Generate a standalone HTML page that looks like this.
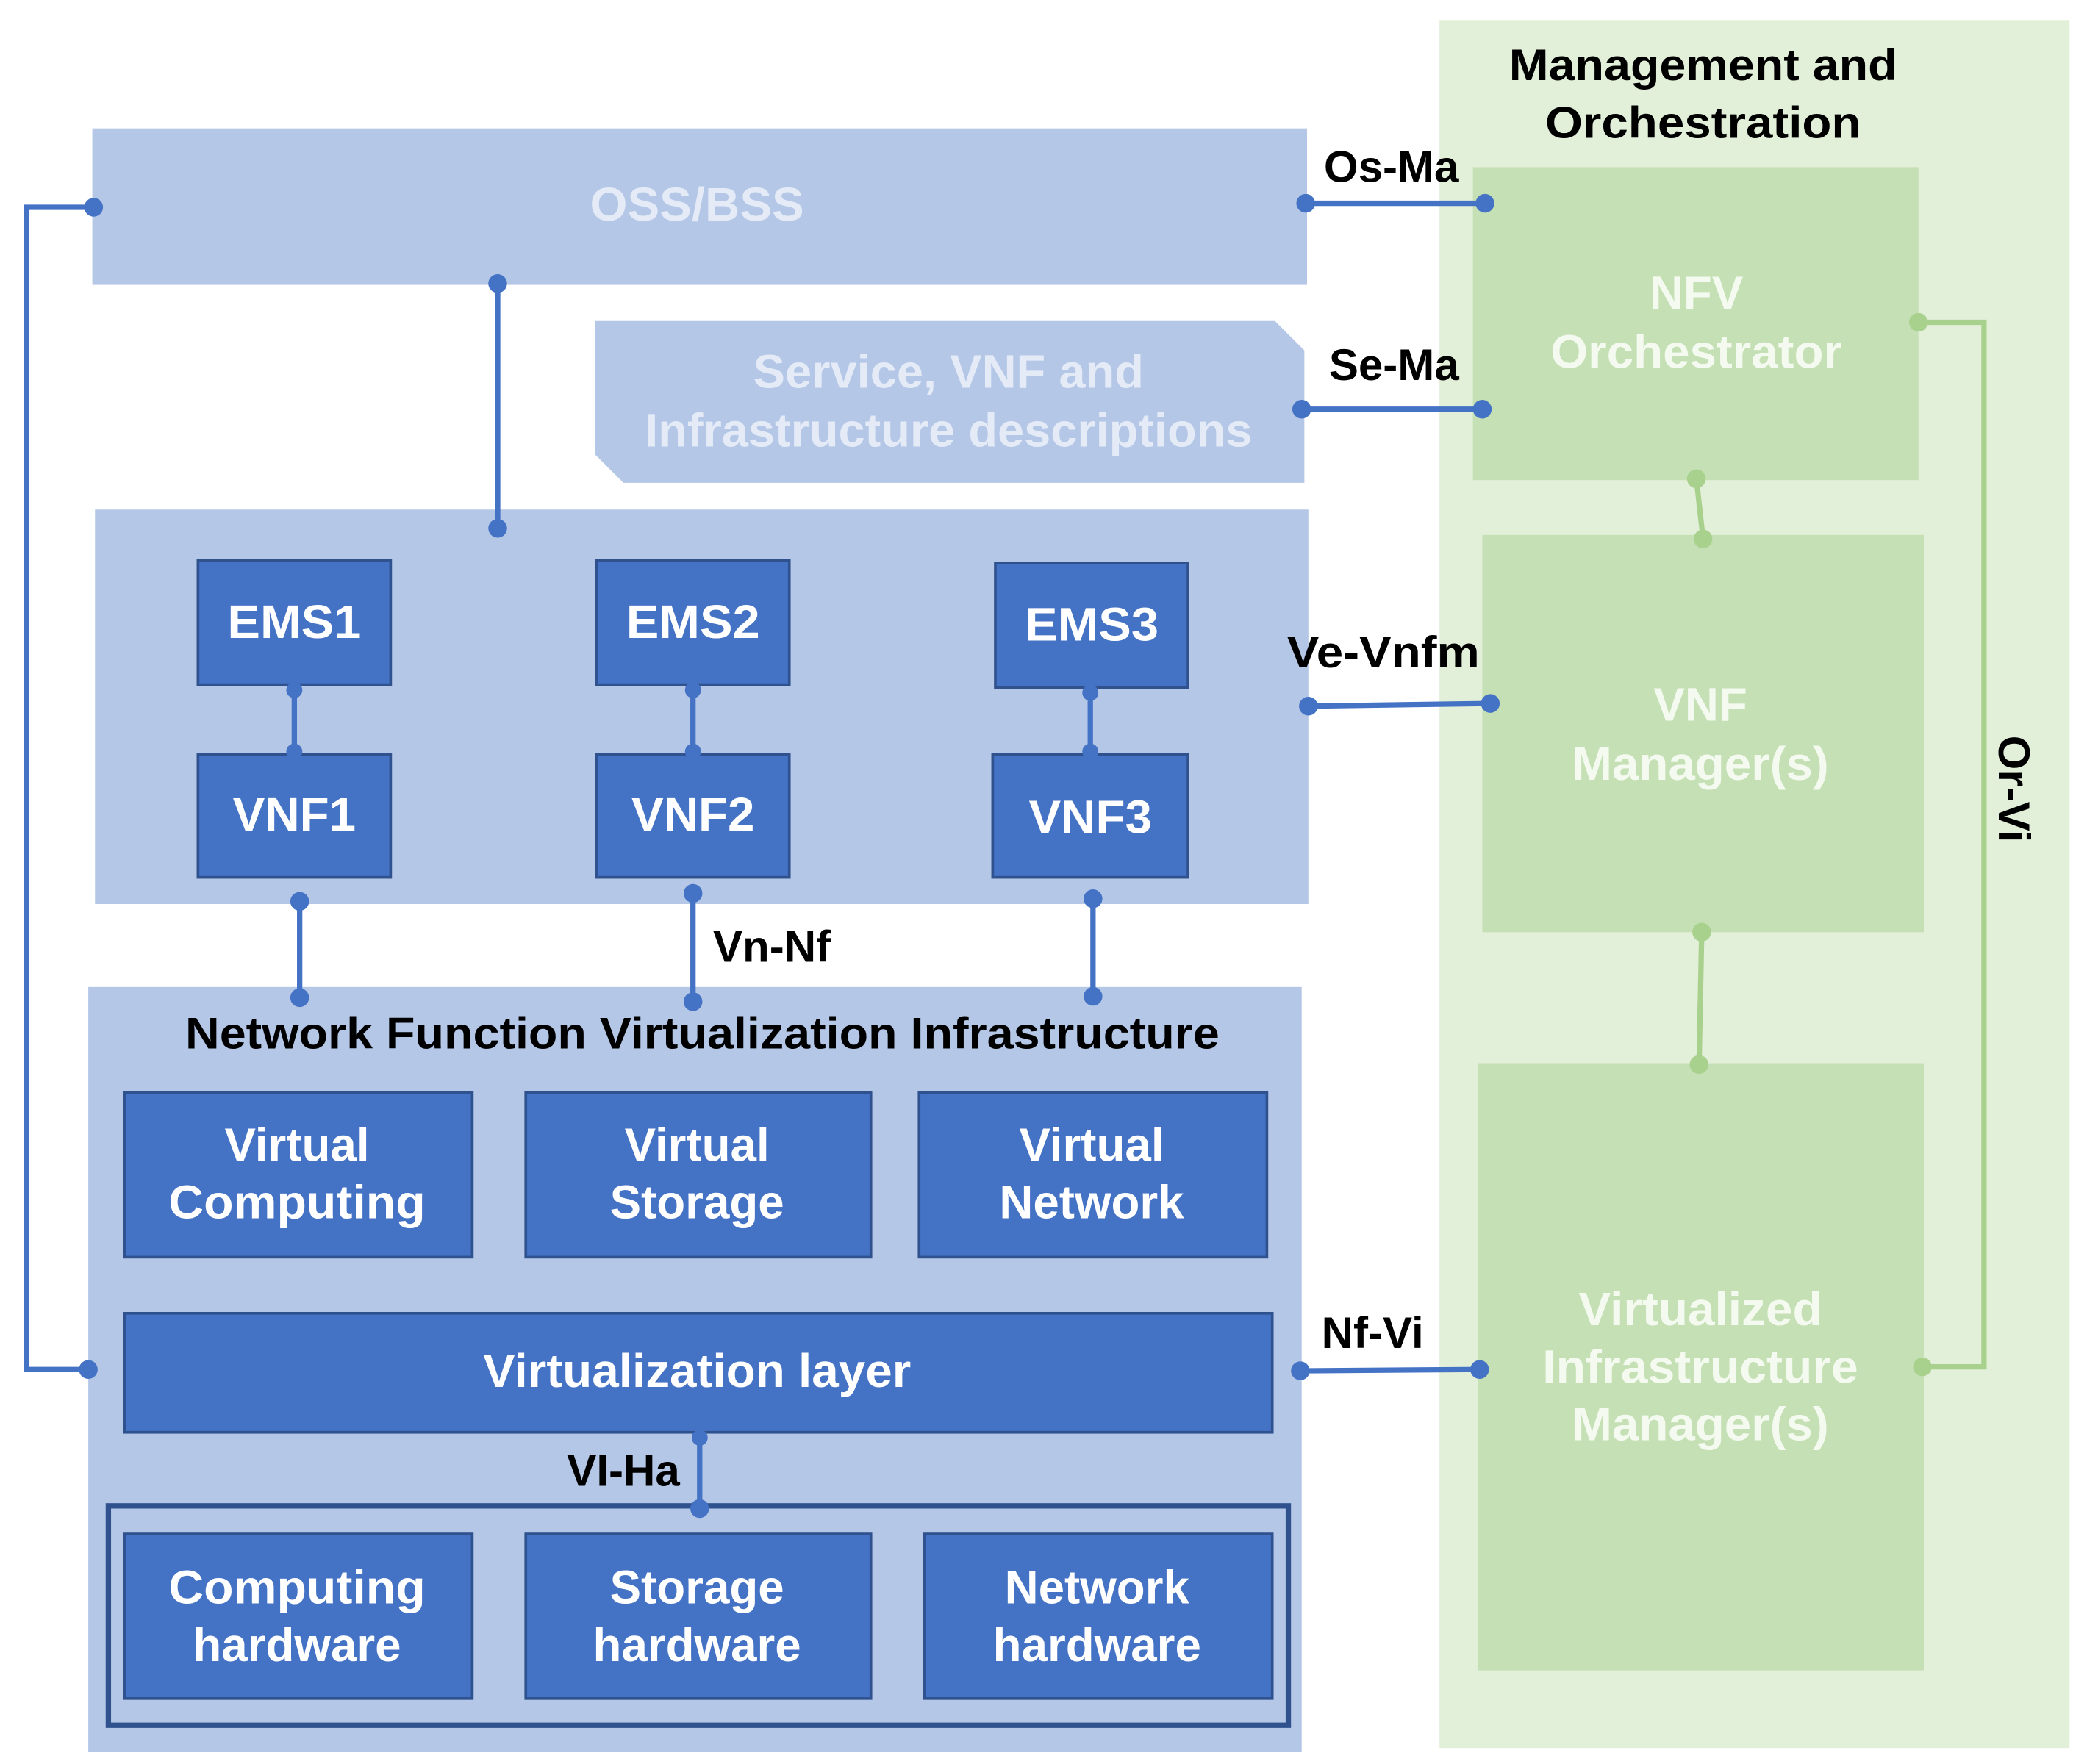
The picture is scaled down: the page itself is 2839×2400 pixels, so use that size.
<!DOCTYPE html>
<html><head><meta charset="utf-8"><style>
html,body{margin:0;padding:0;background:#fff;}
svg{display:block;}
text{font-family:"Liberation Sans Narrow","Liberation Sans",Arial,sans-serif;font-weight:bold;text-anchor:middle;}
.w{fill:#fff;font-size:35px;}
.lw{fill:#e4ebf7;font-size:35px;}
.b{fill:#000;font-size:33px;}
.g{fill:#f4faf0;font-size:35px;}
</style></head><body>
<svg width="2839" height="2400" viewBox="0 0 1560 1319" preserveAspectRatio="none" xmlns="http://www.w3.org/2000/svg">
<rect width="1560" height="1319" fill="#fff"/>
<rect x="1076" y="15" width="471" height="1292" fill="#e2efd9"/>
<text class="b" x="1273" y="60" textLength="290" lengthAdjust="spacingAndGlyphs">Management and</text>
<text class="b" x="1273" y="103" textLength="236" lengthAdjust="spacingAndGlyphs">Orchestration</text>
<rect x="1101" y="125" width="333" height="234" fill="#c5e0b4"/>
<text class="g" x="1268" y="231">NFV</text>
<text class="g" x="1268" y="275" textLength="218" lengthAdjust="spacingAndGlyphs">Orchestrator</text>
<rect x="1108" y="400" width="330" height="297" fill="#c5e0b4"/>
<text class="g" x="1271" y="539">VNF</text>
<text class="g" x="1271" y="583" textLength="192" lengthAdjust="spacingAndGlyphs">Manager(s)</text>
<rect x="1105" y="795" width="333" height="454" fill="#c5e0b4"/>
<text class="g" x="1271" y="991" textLength="182" lengthAdjust="spacingAndGlyphs">Virtualized</text>
<text class="g" x="1271" y="1034" textLength="236" lengthAdjust="spacingAndGlyphs">Infrastructure</text>
<text class="g" x="1271" y="1077" textLength="192" lengthAdjust="spacingAndGlyphs">Manager(s)</text>
<g stroke="#a9d18e" stroke-width="4" fill="none">
<path d="M1268 358 L1273 403"/><path d="M1272 697 L1270 796"/>
<path d="M1434 241 H1483 V1022 H1437"/>
</g>
<g fill="#a9d18e"><circle cx="1268" cy="358" r="7"/><circle cx="1273" cy="403" r="7"/><circle cx="1272" cy="697" r="7"/><circle cx="1270" cy="796" r="7"/><circle cx="1434" cy="241" r="7"/><circle cx="1437" cy="1022" r="7"/></g>
<text class="b" x="0" y="0" transform="translate(1494,590) rotate(90)">Or-Vi</text>
<rect x="69" y="96" width="908" height="117" fill="#b4c7e7"/>
<text class="lw" x="521" y="165" textLength="160" lengthAdjust="spacingAndGlyphs">OSS/BSS</text>
<polygon points="445,240 953,240 975,262 975,361 466,361 445,340" fill="#b4c7e7"/>
<text class="lw" x="709" y="290" textLength="292" lengthAdjust="spacingAndGlyphs">Service, VNF and</text>
<text class="lw" x="709" y="334" textLength="454" lengthAdjust="spacingAndGlyphs">Infrastructure descriptions</text>
<rect x="71" y="381" width="907" height="295" fill="#b4c7e7"/>
<g fill="#4472c4" stroke="#2f528f" stroke-width="2">
<rect x="148" y="419" width="144" height="93"/><rect x="446" y="419" width="144" height="93"/><rect x="744" y="421" width="144" height="93"/>
<rect x="148" y="564" width="144" height="92"/><rect x="446" y="564" width="144" height="92"/><rect x="742" y="564" width="146" height="92"/>
</g>
<text class="w" x="220" y="477" textLength="100" lengthAdjust="spacingAndGlyphs">EMS1</text><text class="w" x="518" y="477" textLength="100" lengthAdjust="spacingAndGlyphs">EMS2</text><text class="w" x="816" y="479" textLength="100" lengthAdjust="spacingAndGlyphs">EMS3</text>
<text class="w" x="220" y="621" textLength="92" lengthAdjust="spacingAndGlyphs">VNF1</text><text class="w" x="518" y="621" textLength="92" lengthAdjust="spacingAndGlyphs">VNF2</text><text class="w" x="815" y="623" textLength="92" lengthAdjust="spacingAndGlyphs">VNF3</text>
<rect x="66" y="738" width="907" height="572" fill="#b4c7e7"/>
<text class="b" x="525" y="784" textLength="773" lengthAdjust="spacingAndGlyphs">Network Function Virtualization Infrastructure</text>
<g fill="#4472c4" stroke="#2f528f" stroke-width="2">
<rect x="93" y="817" width="260" height="123"/><rect x="393" y="817" width="258" height="123"/><rect x="687" y="817" width="260" height="123"/>
<rect x="93" y="982" width="858" height="89"/>
<rect x="93" y="1147" width="260" height="123"/><rect x="393" y="1147" width="258" height="123"/><rect x="691" y="1147" width="260" height="123"/>
</g>
<rect x="81" y="1126" width="882" height="164" fill="none" stroke="#2f528f" stroke-width="4"/>
<text class="w" x="222" y="868">Virtual</text><text class="w" x="222" y="911" textLength="192" lengthAdjust="spacingAndGlyphs">Computing</text>
<text class="w" x="521" y="868">Virtual</text><text class="w" x="521" y="911">Storage</text>
<text class="w" x="816" y="868">Virtual</text><text class="w" x="816" y="911">Network</text>
<text class="w" x="521" y="1037" textLength="320" lengthAdjust="spacingAndGlyphs">Virtualization layer</text>
<text class="w" x="222" y="1199" textLength="192" lengthAdjust="spacingAndGlyphs">Computing</text><text class="w" x="222" y="1242">hardware</text>
<text class="w" x="521" y="1199">Storage</text><text class="w" x="521" y="1242">hardware</text>
<text class="w" x="820" y="1199">Network</text><text class="w" x="820" y="1242">hardware</text>
<g stroke="#4472c4" stroke-width="4" fill="none">
<path d="M70 155 H20 V1024 H66"/>
<path d="M372 212 V395"/>
<path d="M976 152 H1110"/><path d="M973 306 H1108"/><path d="M978 528 L1114 526"/><path d="M972 1025 L1106 1024"/>
<path d="M220 512 V564"/><path d="M518 512 V564"/><path d="M815 514 V564"/>
<path d="M224 674 V746"/><path d="M518 668 V749"/><path d="M817 672 V745"/>
<path d="M523 1071 V1128"/>
</g>
<g fill="#4472c4">
<circle cx="70" cy="155" r="7"/><circle cx="66" cy="1024" r="7"/><circle cx="372" cy="212" r="7"/><circle cx="372" cy="395" r="7"/>
<circle cx="976" cy="152" r="7"/><circle cx="1110" cy="152" r="7"/><circle cx="973" cy="306" r="7"/><circle cx="1108" cy="306" r="7"/>
<circle cx="978" cy="528" r="7"/><circle cx="1114" cy="526" r="7"/><circle cx="972" cy="1025" r="7"/><circle cx="1106" cy="1024" r="7"/>
<circle cx="220" cy="516" r="6"/><circle cx="220" cy="562" r="6"/><circle cx="518" cy="516" r="6"/><circle cx="518" cy="562" r="6"/><circle cx="815" cy="518" r="6"/><circle cx="815" cy="562" r="6"/>
<circle cx="224" cy="674" r="7"/><circle cx="224" cy="746" r="7"/><circle cx="518" cy="668" r="7"/><circle cx="518" cy="749" r="7"/><circle cx="817" cy="672" r="7"/><circle cx="817" cy="745" r="7"/>
<circle cx="523" cy="1075" r="6"/><circle cx="523" cy="1128" r="7"/>
</g>
<text class="b" x="1040" y="136">Os-Ma</text>
<text class="b" x="1042" y="284">Se-Ma</text>
<text class="b" x="1034" y="499" textLength="144" lengthAdjust="spacingAndGlyphs">Ve-Vnfm</text>
<text class="b" x="1026" y="1008">Nf-Vi</text>
<text class="b" x="577" y="719">Vn-Nf</text>
<text class="b" x="466" y="1111">VI-Ha</text>
</svg>
</body></html>
